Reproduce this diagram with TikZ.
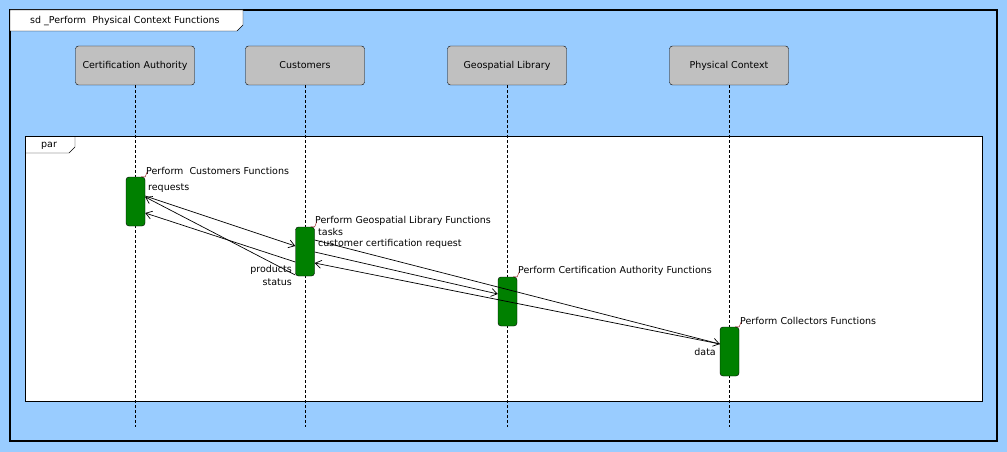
\documentclass[tikz,border=0pt]{standalone}
\usepackage{fontspec}
\setmainfont{DejaVu Sans}
\usetikzlibrary{arrows.meta}
\definecolor{sdblue}{HTML}{99CCFF}
\definecolor{headgray}{HTML}{C0C0C0}
\definecolor{actgreen}{HTML}{008000}

\begin{document}
\begin{tikzpicture}[x=1pt, y=-1pt, font=\fontsize{9.5}{11}\selectfont]
\tikzset{
  head/.style={draw=black, fill=headgray, rounded corners=3pt, minimum width=119pt, minimum height=39pt, inner sep=0pt},
  act/.style={draw=black, fill=actgreen, rounded corners=3pt, minimum width=19pt, minimum height=49pt, inner sep=0pt},
  life/.style={dash pattern=on 3pt off 2pt, line width=0.7pt},
  msg/.style={-{Straight Barb[length=6pt, width=8pt]}, line width=0.7pt},
  lbl/.style={inner sep=0pt, anchor=west},
  rlbl/.style={inner sep=0pt, anchor=east},
  tick/.style={draw=red!50!black},
}
\useasboundingbox[fill=sdblue] (0,0) rectangle (1007,452);
% frames
\draw[line width=2pt] (10,10) rectangle (997,441);
\draw[fill=white] (10,10) -- (243,10) -- (243,25) -- (237,31) -- (10,31) -- cycle;
\node[lbl] (title) at (30,21) {sd \_Perform\ \ Physical Context Functions};
\draw[fill=white] (25,136) rectangle (982,401);
\draw (25,153) -- (69,153) -- (75,147) -- (75,136);
\node[lbl] (par) at (41,146) {par};
% lifelines
\node[head] (ca) at (135,65.5) {Certification Authority};
\node[head] (cu) at (305,65.5) {Customers};
\node[head] (geo) at (507,65.5) {Geospatial Library};
\node[head] (pc) at (729,65.5) {Physical Context};
\foreach \l in {ca,cu,geo,pc} {
  \coordinate (\l-e) at (\l.south |- 0,427);
  \draw[life] (\l) -- (\l-e);
}
% activations
\node[act] (a1) at (135.5,201.5) {};
\node[act] (a2) at (305,251.5) {};
\node[act] (a3) at (507.5,301.5) {};
\node[act] (a4) at (729.5,351.5) {};
\node[lbl] (f1) at (146,171) {Perform\ \ Customers Functions};
\node[lbl] (f2) at (315,221) {Perform Geospatial Library Functions};
\node[lbl] (f3) at (518,271) {Perform Certification Authority Functions};
\node[lbl] (f4) at (740,321) {Perform Collectors Functions};
\foreach \a in {a1,a2,a3,a4}
  \draw[tick] ([xshift=-4pt]\a.north east) -- (\a.north east) -- ++(2,-5);
% messages
\coordinate (rq-s) at (a1.east |- 0,196);
\coordinate (rq-e) at (a2.west |- 0,246);
\coordinate (pr-s) at (a2.west |- 0,275);
\coordinate (pr-e) at (a1.east |- 0,197);
\coordinate (st-s) at (a2.west |- 0,262);
\coordinate (st-e) at (a1.east |- 0,213);
\coordinate (tk-s) at (a2.east |- 0,240);
\coordinate (tk-e) at (a4.west |- 0,344);
\coordinate (cc-s) at (a2.east |- 0,252);
\coordinate (cc-e) at (a3.west |- 0,294);
\coordinate (dt-s) at (a4.west |- 0,344);
\coordinate (dt-e) at (a2.east |- 0,263);
\draw[msg] (rq-s) -- (rq-e);
\draw[msg] (pr-s) -- (pr-e);
\draw[msg] (st-s) -- (st-e);
\draw[msg] (tk-s) -- (tk-e);
\draw[msg] (cc-s) -- (cc-e);
\draw[msg] (dt-s) -- (dt-e);
\node[lbl] (l-rq) at (148,188) {requests};
\node[rlbl] (l-pr) at (292,270) {products};
\node[rlbl] (l-st) at (292,282) {status};
\node[lbl] (l-tk) at (318,232) {tasks};
\node[lbl] (l-cc) at (318,244) {customer certification request};
\node[rlbl] (l-dt) at (716,352) {data};
\end{tikzpicture}
\end{document}
